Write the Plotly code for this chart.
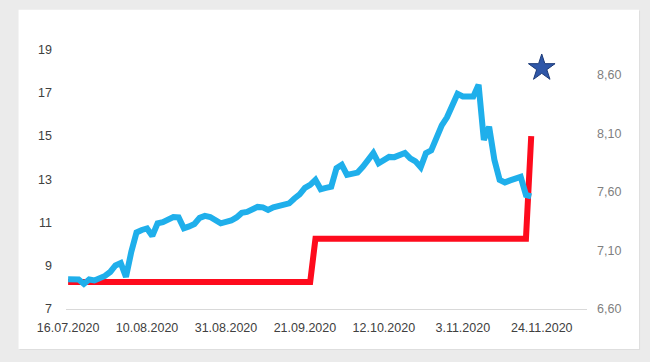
import plotly.graph_objects as go

# x tick labels (every 15th trading day)
tick_labels = ["16.07.2020", "10.08.2020", "31.08.2020", "21.09.2020",
               "12.10.2020", "3.11.2020", "24.11.2020"]
tick_positions = [0, 15, 30, 45, 60, 75, 90]

# Blue series (right axis)
usd_try = [6.854, 6.856, 6.852, 6.814, 6.852, 6.844, 6.861, 6.882, 6.916, 6.972,
           6.993, 6.874, 7.087, 7.254, 7.275, 7.288, 7.224, 7.331, 7.341, 7.369,
           7.386, 7.382, 7.290, 7.305, 7.326, 7.378, 7.395, 7.386, 7.358, 7.332,
           7.344, 7.356, 7.382, 7.421, 7.429, 7.450, 7.472, 7.468, 7.446, 7.468,
           7.476, 7.489, 7.502, 7.544, 7.579, 7.634, 7.660, 7.703, 7.623, 7.634,
           7.645, 7.803, 7.831, 7.745, 7.754, 7.765, 7.814, 7.874, 7.931, 7.845,
           7.874, 7.899, 7.897, 7.916, 7.933, 7.886, 7.861, 7.811, 7.931, 7.955,
           8.057, 8.168, 8.237, 8.335, 8.438, 8.416, 8.421, 8.416, 8.515, 8.044,
           8.156, 7.874, 7.703, 7.681, 7.698, 7.715, 7.728, 7.574, 7.562]

# Red series (left axis) - policy rate
policy_rate = [8.25, 8.25, 8.25, 8.25, 8.25, 8.25, 8.25, 8.25, 8.25, 8.25,
               8.25, 8.25, 8.25, 8.25, 8.25, 8.25, 8.25, 8.25, 8.25, 8.25,
               8.25, 8.25, 8.25, 8.25, 8.25, 8.25, 8.25, 8.25, 8.25, 8.25,
               8.25, 8.25, 8.25, 8.25, 8.25, 8.25, 8.25, 8.25, 8.25, 8.25,
               8.25, 8.25, 8.25, 8.25, 8.25, 8.25, 8.25, 10.25, 10.25, 10.25,
               10.25, 10.25, 10.25, 10.25, 10.25, 10.25, 10.25, 10.25, 10.25, 10.25,
               10.25, 10.25, 10.25, 10.25, 10.25, 10.25, 10.25, 10.25, 10.25, 10.25,
               10.25, 10.25, 10.25, 10.25, 10.25, 10.25, 10.25, 10.25, 10.25, 10.25,
               10.25, 10.25, 10.25, 10.25, 10.25, 10.25, 10.25, 10.25, 15.0]

# Star marker (left axis)
star_x = [90]
star_y = [18.15]

x_blue = list(range(len(usd_try)))
x_red = list(range(len(policy_rate)))

fig = go.Figure()
fig.add_trace(go.Scatter(x=x_red, y=policy_rate, mode="lines",
                         line=dict(color="#fe0b1d", width=6), yaxis="y",
                         showlegend=False, hoverinfo="skip"))
fig.add_trace(go.Scatter(x=x_blue, y=usd_try, mode="lines",
                         line=dict(color="#1fafeb", width=6), yaxis="y2",
                         showlegend=False, hoverinfo="skip"))
fig.add_trace(go.Scatter(x=star_x, y=star_y, mode="markers",
                         marker=dict(symbol="star", size=20, color="#2f57a8",
                                     line=dict(color="#1c3a78", width=1)),
                         yaxis="y", showlegend=False, hoverinfo="skip"))

L, R, T, B = 66.4, 63, 28.2, 53
W, H = 650, 362
pw = W - L - R
ph = H - T - B

def px_x(p):
    return (p - L) / pw

def px_y(p):
    return (H - B - p) / ph

font = dict(family="Liberation Sans, Arial, sans-serif", size=12.5, color="#595959")

fig.update_layout(
    width=W, height=H,
    margin=dict(l=L, r=R, t=T, b=B, pad=0),
    paper_bgcolor="#ebebeb",
    plot_bgcolor="rgba(0,0,0,0)",
    separators=", ",
    font=font,
    hovermode=False,
    xaxis=dict(range=[-0.4, 98.6], tickvals=tick_positions, ticktext=tick_labels,
               showgrid=False, zeroline=False, showline=True, linecolor="#d9d9d9",
               linewidth=1, ticks="", tickfont=dict(color="#404040", size=12.5),
               ticklabelstandoff=7),
    yaxis=dict(range=[7, 20], tickvals=[7, 9, 11, 13, 15, 17, 19],
               showgrid=False, zeroline=False, showline=False, ticks="",
               tickfont=dict(color="#404040", size=12.5), ticklabelstandoff=13),
    yaxis2=dict(range=[6.6, 9.0], tickvals=[6.6, 7.1, 7.6, 8.1, 8.6],
                tickformat=".2f", overlaying="y", side="right",
                showgrid=False, zeroline=False, showline=False, ticks="",
                tickfont=dict(color="#7f7f7f", size=12.5), ticklabelstandoff=9),
    shapes=[
        dict(type="rect", xref="paper", yref="paper", layer="below",
             x0=px_x(20), x1=px_x(640), y0=px_y(350), y1=px_y(11),
             fillcolor="#dedede", line=dict(width=0)),
        dict(type="rect", xref="paper", yref="paper", layer="below",
             x0=px_x(19), x1=px_x(639), y0=px_y(349), y1=px_y(10),
             fillcolor="#ffffff", line=dict(width=0)),
    ],
)

fig.write_html("out.html",
               config={"displayModeBar": False},
               post_script="document.body.style.margin='0';"
                           "document.body.style.background='#ebebeb';")
